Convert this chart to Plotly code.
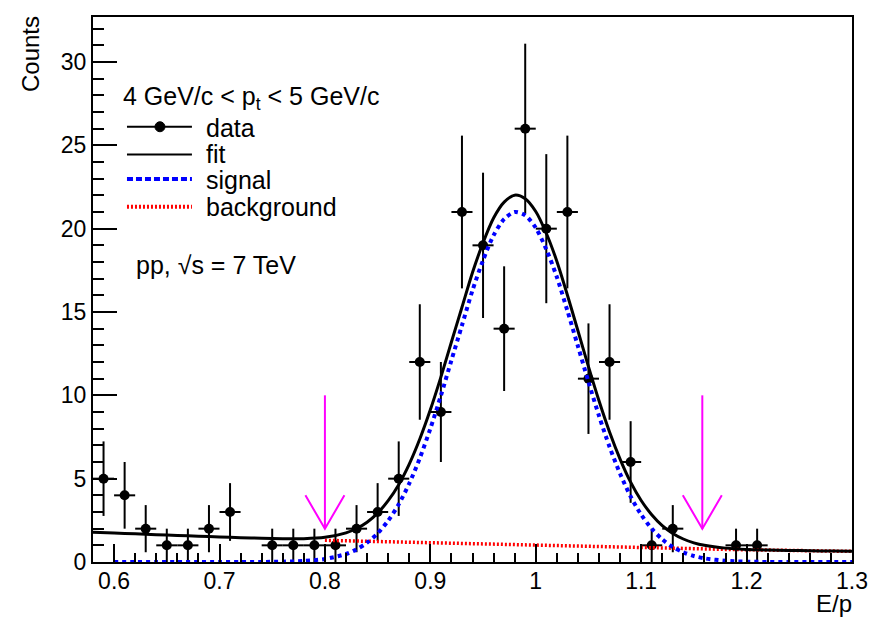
import numpy as np
import plotly.graph_objects as go

# ---------------- data ----------------
bin_centers = [0.59, 0.61, 0.63, 0.65, 0.67, 0.69, 0.71, 0.75, 0.77, 0.79,
               0.81, 0.83, 0.85, 0.87, 0.89, 0.91, 0.93, 0.95, 0.97, 0.99,
               1.01, 1.03, 1.05, 1.07, 1.09, 1.11, 1.13, 1.19, 1.21]
counts = [5, 4, 2, 1, 1, 2, 3, 1, 1, 1,
          1, 2, 3, 5, 12, 9, 21, 19, 14, 26,
          20, 21, 11, 12, 6, 1, 2, 1, 1]
bin_half_width = 0.01

curve_x = [0.58, 0.60, 0.62, 0.64, 0.66, 0.68, 0.70, 0.72, 0.74, 0.76, 0.78, 0.80, 0.82,
           0.83, 0.84, 0.85, 0.86, 0.87, 0.88, 0.89, 0.90, 0.91, 0.92, 0.93, 0.94, 0.95,
           0.96, 0.97, 0.98, 0.99, 1.00, 1.01, 1.02, 1.03, 1.04, 1.05, 1.06, 1.07, 1.08,
           1.09, 1.10, 1.11, 1.12, 1.13, 1.14, 1.15,
           1.16, 1.18, 1.20, 1.22, 1.24, 1.26, 1.28, 1.30]
signal_y = [0.0, 0.0, 0.0, 0.0, 0.0, 0.0, 0.0, 0.0, 0.005, 0.02, 0.06, 0.18, 0.48,
            0.76, 1.16, 1.72, 2.48, 3.46, 4.71, 6.23, 8.0, 9.98, 12.1, 14.2, 16.3, 18.1,
            19.6, 20.57, 21.0, 20.8, 20.05, 18.76, 17.1, 15.08, 12.95, 10.81, 8.77, 6.91, 5.3,
            3.93, 2.84, 2.0, 1.36, 0.90, 0.58, 0.36,
            0.22, 0.075, 0.02, 0.005, 0.0, 0.0, 0.0, 0.0]
background_y = [1.79, 1.74, 1.69, 1.64, 1.59, 1.55, 1.505, 1.46, 1.42, 1.38, 1.34, 1.30, 1.27,
                1.25, 1.23, 1.215, 1.20, 1.18, 1.16, 1.145, 1.13, 1.115, 1.10, 1.085, 1.07, 1.055,
                1.04, 1.025, 1.01, 0.995, 0.98, 0.965, 0.95, 0.94, 0.925, 0.91, 0.90, 0.89, 0.875,
                0.86, 0.85, 0.84, 0.825, 0.815, 0.80, 0.79,
                0.78, 0.757, 0.736, 0.715, 0.695, 0.675, 0.656, 0.638]
signal_start = 0.60
background_start = 0.80

cut_positions = [0.80, 1.158]
cut_arrow_top = 10.0
cut_arrow_tip = 2.0

x_tickvals = [0.6, 0.7, 0.8, 0.9, 1.0, 1.1, 1.2, 1.3]
x_ticktext = ["0.6", "0.7", "0.8", "0.9", "1", "1.1", "1.2", "1.3"]
y_tickvals = [0, 5, 10, 15, 20, 25, 30]
y_ticktext = ["0", "5", "10", "15", "20", "25", "30"]

# ---------------- figure ----------------
FONT = "Liberation Sans, Arial, Helvetica, sans-serif"
cx = np.array(curve_x)
sig = np.array(signal_y)
bkg = np.array(background_y)
fit = sig + bkg

fig = go.Figure()

# data points
fig.add_trace(go.Scatter(
    x=bin_centers, y=counts, mode="markers",
    marker=dict(color="black", size=10, symbol="circle"),
    error_y=dict(type="data", array=np.sqrt(counts), color="black",
                 thickness=2, width=0),
    error_x=dict(type="constant", value=bin_half_width, color="black",
                 thickness=2, width=0),
    showlegend=False, cliponaxis=False))

# background (red fine dotted)
mb = cx >= background_start - 1e-9
fig.add_trace(go.Scatter(
    x=cx[mb], y=bkg[mb], mode="lines", line=dict(color="#ff0000", width=3.5, dash="2px,2px"),
    showlegend=False))

# signal (blue dotted)
ms = cx >= signal_start - 1e-9
fig.add_trace(go.Scatter(
    x=cx[ms], y=sig[ms], mode="lines",
    line=dict(color="#0000ff", width=4, dash="4px,4px", shape="spline", smoothing=0.8),
    showlegend=False))

# fit (black solid)
fig.add_trace(go.Scatter(
    x=cx, y=fit, mode="lines",
    line=dict(color="black", width=3, shape="spline", smoothing=0.8),
    showlegend=False))

# cut arrows (magenta open V arrows)
ax, ay = [], []
arm_dx, arm_dy = 0.0185, 2.0
for c in cut_positions:
    ax += [c, c, None, c - arm_dx, c, c + arm_dx, None]
    ay += [cut_arrow_top, cut_arrow_tip, None, cut_arrow_tip + arm_dy, cut_arrow_tip,
           cut_arrow_tip + arm_dy, None]
fig.add_trace(go.Scatter(x=ax, y=ay, mode="lines",
                         line=dict(color="#ff00ff", width=2), showlegend=False))

# ---------------- layout ----------------
# page has an 8px body margin; figure placed at (8, 8) in the window
OFF = 8
W, H = 873, 613
L = 93 - OFF
R = W + OFF - 852.5
T = 17 - OFF
B = H - (561.7 - OFF)
PW, PH = W - L - R, H - T - B


def px_x(p):
    return (p - OFF - L) / PW


def px_y(p):
    return (H - B - (p - OFF)) / PH


shapes = []
# legend glyphs
shapes.append(dict(type="line", xref="paper", yref="paper", x0=px_x(127), x1=px_x(192),
                   y0=px_y(126.7), y1=px_y(126.7), line=dict(color="black", width=2)))
shapes.append(dict(type="circle", xref="paper", yref="paper",
                   x0=px_x(155), x1=px_x(165), y0=px_y(131.7), y1=px_y(121.7),
                   fillcolor="black", line=dict(color="black", width=1)))
shapes.append(dict(type="line", xref="paper", yref="paper", x0=px_x(127), x1=px_x(192),
                   y0=px_y(154.3), y1=px_y(154.3), line=dict(color="black", width=2)))
shapes.append(dict(type="line", xref="paper", yref="paper", x0=px_x(127), x1=px_x(192),
                   y0=px_y(179), y1=px_y(179), line=dict(color="#0000ff", width=4, dash="6px,3px")))
shapes.append(dict(type="line", xref="paper", yref="paper", x0=px_x(127), x1=px_x(192),
                   y0=px_y(206.7), y1=px_y(206.7), line=dict(color="#ff0000", width=4, dash="2px,2px")))

annotations = []


def txt(text, x, y, size=25, **kw):
    d = dict(text=text, xref="paper", yref="paper", x=x, y=y, showarrow=False,
             font=dict(family=FONT, size=size, color="black"), xanchor="left", yanchor="middle")
    d.update(kw)
    annotations.append(d)


txt("4 GeV/c &lt; p<sub>t</sub> &lt; 5 GeV/c", px_x(121), px_y(98))
txt("data", px_x(204), px_y(127.5))
txt("fit", px_x(204), px_y(153.5))
txt("signal", px_x(204), px_y(179.5))
txt("background", px_x(204), px_y(206.5))
txt("pp, √s = 7 TeV", px_x(134), px_y(265))
txt("Counts", px_x(31), px_y(14), size=24, textangle=-90, xanchor="center", yanchor="top")
txt("E/p", px_x(855), px_y(603), size=24, xanchor="right", yanchor="middle")

fig.update_layout(
    width=W, height=H,
    margin=dict(l=L, r=R, t=T, b=B, pad=0, autoexpand=False),
    paper_bgcolor="white", plot_bgcolor="white",
    font=dict(family=FONT, size=23, color="black"),
    shapes=shapes, annotations=annotations,
    showlegend=False,
)
fig.update_xaxes(
    automargin=False,
    range=[0.58, 1.30], showgrid=False, zeroline=False,
    showline=True, linecolor="black", linewidth=2, mirror=True,
    ticks="inside", ticklen=18, tickwidth=1.5, tickcolor="black",
    tickvals=x_tickvals, ticktext=x_ticktext, ticklabelstandoff=-3,
    tickfont=dict(family=FONT, size=23, color="black"),
    minor=dict(ticks="inside", ticklen=9, tickwidth=1.5, tickcolor="black",
               dtick=0.02, tick0=0.6, showgrid=False),
)
fig.update_yaxes(
    automargin=False,
    range=[0, 32.7], showgrid=False, zeroline=False,
    showline=True, linecolor="black", linewidth=2, mirror=True,
    ticks="inside", ticklen=24, tickwidth=1.5, tickcolor="black",
    tickvals=y_tickvals, ticktext=y_ticktext,
    tickfont=dict(family=FONT, size=23, color="black"),
    minor=dict(ticks="inside", ticklen=11, tickwidth=1.5, tickcolor="black",
               dtick=1, tick0=0, showgrid=False),
)

fig.write_html("out.html")
